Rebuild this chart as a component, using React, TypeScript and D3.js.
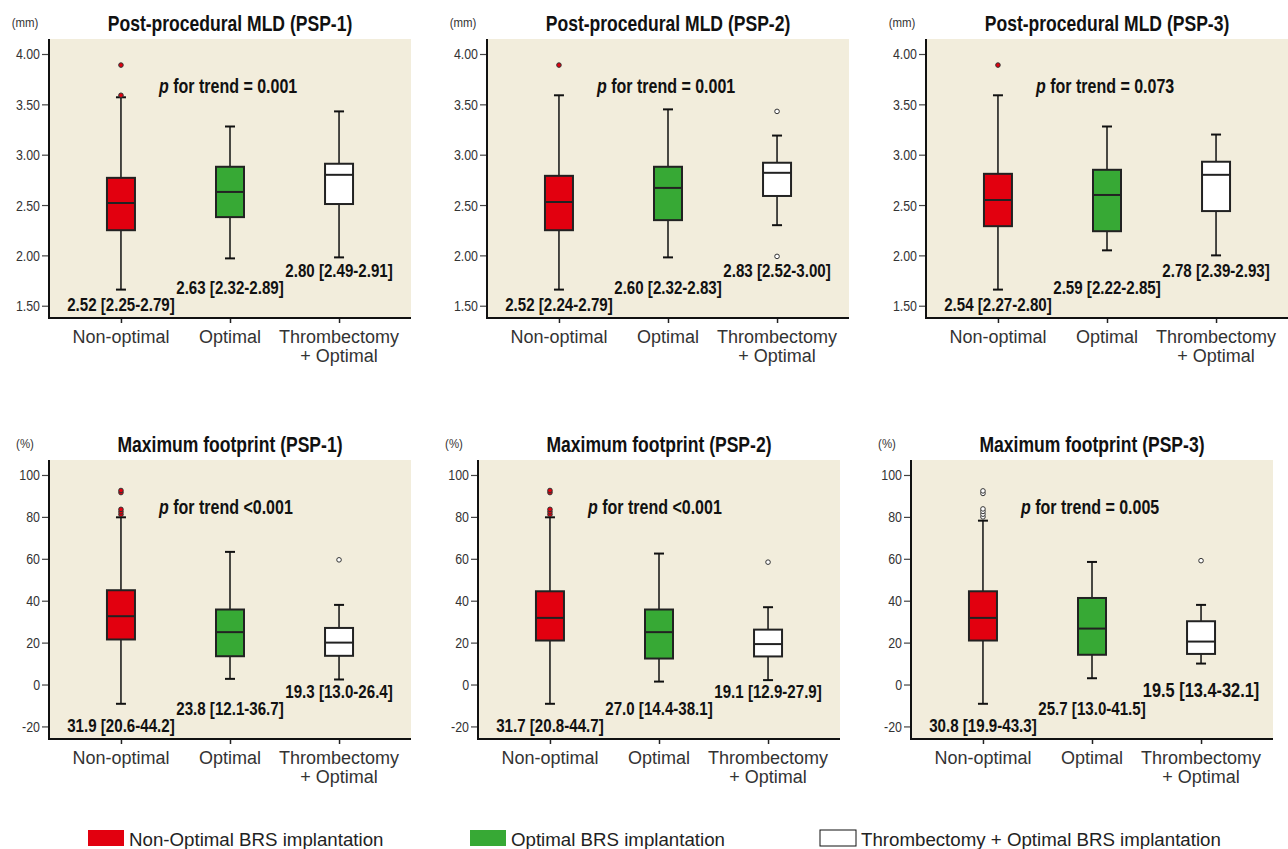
import React, { useEffect, useRef } from "react";
import * as d3 from "d3";

// categories and group colours
const categories = ["Non-optimal", "Optimal", "Thrombectomy"];
const categorySecondLine = ["", "", "+ Optimal"];
const groupColors = ["#e2000f", "#37a935", "#ffffff"];
const legendLabels = [
  "Non-Optimal BRS implantation",
  "Optimal BRS implantation",
  "Thrombectomy + Optimal BRS implantation",
];

// panel texts
const titles = [
  "Post-procedural MLD (PSP-1)",
  "Post-procedural MLD (PSP-2)",
  "Post-procedural MLD (PSP-3)",
  "Maximum footprint (PSP-1)",
  "Maximum footprint (PSP-2)",
  "Maximum footprint (PSP-3)",
];
const unitLabels = ["(mm)", "(mm)", "(mm)", "(%)", "(%)", "(%)"];
const trendValues = ["= 0.001", "= 0.001", "= 0.073", "<0.001", "<0.001", "= 0.005"];

const summaryLabels = [
  ["2.52 [2.25-2.79]", "2.63 [2.32-2.89]", "2.80 [2.49-2.91]"],
  ["2.52 [2.24-2.79]", "2.60 [2.32-2.83]", "2.83 [2.52-3.00]"],
  ["2.54 [2.27-2.80]", "2.59 [2.22-2.85]", "2.78 [2.39-2.93]"],
  ["31.9 [20.6-44.2]", "23.8 [12.1-36.7]", "19.3 [13.0-26.4]"],
  ["31.7 [20.8-44.7]", "27.0 [14.4-38.1]", "19.1 [12.9-27.9]"],
  ["30.8 [19.9-43.3]", "25.7 [13.0-41.5]", "19.5 [13.4-32.1]"],
];

// box stats per group: [lower whisker, q1, median, q3, upper whisker]
const mld1Stats = [[1.66, 2.25, 2.52, 2.77, 3.57], [1.97, 2.38, 2.63, 2.88, 3.28], [1.98, 2.51, 2.80, 2.91, 3.43]];
const mld2Stats = [[1.66, 2.25, 2.53, 2.79, 3.59], [1.98, 2.35, 2.67, 2.88, 3.45], [2.30, 2.59, 2.82, 2.92, 3.19]];
const mld3Stats = [[1.66, 2.29, 2.55, 2.81, 3.59], [2.05, 2.24, 2.60, 2.85, 3.28], [2.00, 2.44, 2.80, 2.93, 3.20]];
const fp1Stats = [[-9.2, 21.5, 32.6, 45.0, 79.8], [2.7, 13.5, 25.0, 35.8, 63.3], [2.4, 13.7, 20.0, 27.0, 38.0]];
const fp2Stats = [[-9.2, 21.0, 31.8, 44.5, 79.8], [1.4, 12.4, 25.0, 35.8, 62.5], [2.1, 13.4, 19.3, 26.2, 36.9]];
const fp3Stats = [[-9.2, 21.0, 31.8, 44.5, 78.2], [3.0, 14.2, 26.7, 41.3, 58.5], [10.0, 14.6, 20.5, 30.2, 38.0]];

// outliers per group
const mld1Outliers = [[3.59, 3.89], [], []];
const mld2Outliers = [[3.89], [], [1.99, 3.43]];
const mld3Outliers = [[3.89], [], []];
const fp1Outliers = [[81.2, 82.4, 83.6, 91.6, 92.6], [], [59.5]];
const fp2Outliers = [[81.2, 82.4, 83.6, 91.6, 92.6], [], [58.4]];
const fp3Outliers = [[80.0, 81.3, 82.6, 83.8, 91.2, 92.4], [], [59.1]];

const mldTicks = [1.5, 2.0, 2.5, 3.0, 3.5, 4.0];
const fpTicks = [-20, 0, 20, 40, 60, 80, 100];

const panelStats = [mld1Stats, mld2Stats, mld3Stats, fp1Stats, fp2Stats, fp3Stats];
const panelOutliers = [mld1Outliers, mld2Outliers, mld3Outliers, fp1Outliers, fp2Outliers, fp3Outliers];

const FONT = "'Liberation Sans', Arial, sans-serif";

// text squeezed horizontally, to get the condensed look of the original
function narrowText(parent: any, x: number, y: number, str: string, size: number, squeeze: number, bold: boolean, anchor = "middle") {
  const t = parent
    .append("g")
    .attr("transform", `translate(${x},${y}) scale(${squeeze},1)`)
    .append("text")
    .attr("text-anchor", anchor)
    .attr("dominant-baseline", "central")
    .style("font-family", FONT)
    .style("font-weight", bold ? "bold" : "normal")
    .style("font-size", size + "px")
    .attr("fill", bold ? "#111" : "#333");
  if (str) t.text(str);
  return t;
}

export default function App() {
  const ref = useRef<SVGSVGElement>(null);

  useEffect(() => {
    const svg = d3.select(ref.current);
    svg.selectAll("*").remove();

    const panelLeft = [49, 487, 926, 49, 478, 911];
    const panelTop = [39, 39, 39, 460, 460, 460];
    const w = 362,
      h = 279;

    panelStats.forEach((stats, i) => {
      const isMld = i < 3;
      const g = svg.append("g").attr("transform", `translate(${panelLeft[i]},${panelTop[i]})`);

      const y = isMld
        ? d3.scaleLinear().domain([1.378, 4.149]).range([h, 0])
        : d3.scaleLinear().domain([-26.0, 107.15]).range([h, 0]);
      const x = d3.scalePoint().domain(categories).range([0, w]).padding(0.66);

      g.append("rect").attr("width", w).attr("height", h).attr("fill", "#f2eddc");

      // title and unit
      narrowText(g, x("Optimal") as number, -16, titles[i], 22.5, 0.78, true);
      narrowText(g, -24, -16, unitLabels[i], 13, 0.88, false);

      // y axis
      const yAxis = g
        .append("g")
        .call(
          d3
            .axisLeft(y)
            .tickValues(isMld ? mldTicks : fpTicks)
            .tickSize(7)
            .tickSizeOuter(0)
            .tickFormat((d) => (isMld ? d3.format(".2f")(d as number) : String(d)))
        );
      yAxis.select(".domain").remove();
      yAxis.selectAll("line").attr("stroke", "#444").attr("stroke-width", 1.2);
      yAxis
        .selectAll("text")
        .attr("x", -9 / 0.8)
        .attr("transform", "scale(0.8,1)")
        .style("font-family", FONT)
        .style("font-size", "15.5px")
        .attr("fill", "#333");

      // x axis
      const xAxis = g.append("g").attr("transform", `translate(0,${h})`).call(d3.axisBottom(x).tickSize(5).tickSizeOuter(0));
      xAxis.select(".domain").remove();
      xAxis.selectAll("line").attr("stroke", "#222").attr("stroke-width", 1.5);
      xAxis.selectAll("text").remove();
      categories.forEach((c, k) => {
        const t = g
          .append("text")
          .attr("x", x(c))
          .attr("y", h + 25)
          .attr("text-anchor", "middle")
          .style("font-family", FONT)
          .style("font-size", "18px")
          .attr("fill", "#333");
        t.append("tspan").attr("x", x(c)).text(c);
        if (categorySecondLine[k]) t.append("tspan").attr("x", x(c)).attr("dy", 19).text(categorySecondLine[k]);
      });

      // axis lines
      g.append("line").attr("x1", 0).attr("x2", 0).attr("y1", 0).attr("y2", h + 1).attr("stroke", "#111").attr("stroke-width", 2);
      g.append("line").attr("x1", 0).attr("x2", w).attr("y1", h).attr("y2", h).attr("stroke", "#111").attr("stroke-width", 2);

      // boxes
      const boxW = 28,
        capW = 10;
      stats.forEach((s, k) => {
        const cx = x(categories[k]) as number;
        const [lo, q1, med, q3, hi] = s;
        g.append("line").attr("x1", cx).attr("x2", cx).attr("y1", y(hi)).attr("y2", y(q3)).attr("stroke", "#111").attr("stroke-width", 1.5);
        g.append("line").attr("x1", cx).attr("x2", cx).attr("y1", y(q1)).attr("y2", y(lo)).attr("stroke", "#111").attr("stroke-width", 1.5);
        [lo, hi].forEach((v) =>
          g
            .append("line")
            .attr("x1", cx - capW / 2)
            .attr("x2", cx + capW / 2)
            .attr("y1", y(v))
            .attr("y2", y(v))
            .attr("stroke", "#111")
            .attr("stroke-width", 2)
        );
        g.append("rect")
          .attr("x", cx - boxW / 2)
          .attr("y", y(q3))
          .attr("width", boxW)
          .attr("height", y(q1) - y(q3))
          .attr("fill", groupColors[k])
          .attr("stroke", "#222")
          .attr("stroke-width", 2);
        g.append("line")
          .attr("x1", cx - boxW / 2)
          .attr("x2", cx + boxW / 2)
          .attr("y1", y(med))
          .attr("y2", y(med))
          .attr("stroke", "#222")
          .attr("stroke-width", 2);

        const hollow = k === 2 || i === 5;
        panelOutliers[i][k].forEach((v) =>
          g
            .append("circle")
            .attr("cx", cx)
            .attr("cy", y(v))
            .attr("r", 2.3)
            .attr("fill", hollow ? "#ffffff" : "#e2000f")
            .attr("stroke", "#333")
            .attr("stroke-width", 1)
        );

        // summary label
        const labelY = [266, 249, 231.7][k];
        const big = i === 5 && k === 2;
        narrowText(g, cx, labelY - (big ? 1 : 0), summaryLabels[i][k], big ? 19.5 : 18, 0.84, true);
      });

      // p for trend
      const pt = narrowText(g, 110, 47, "", 20, 0.8, true, "start");
      pt.append("tspan").style("font-style", "italic").text("p");
      pt.append("tspan").text(" for trend " + trendValues[i]);
    });

    // legend
    const legendX = [88, 470, 820];
    legendLabels.forEach((l, k) => {
      svg
        .append("rect")
        .attr("x", legendX[k])
        .attr("y", 830)
        .attr("width", 36)
        .attr("height", 16)
        .attr("fill", groupColors[k])
        .attr("stroke", k === 2 ? "#111" : "none")
        .attr("stroke-width", 1);
      svg
        .append("text")
        .attr("x", legendX[k] + 41)
        .attr("y", 839)
        .attr("dominant-baseline", "central")
        .style("font-family", FONT)
        .style("font-size", "18.7px")
        .attr("fill", "#222")
        .text(l);
    });
  }, []);

  return (
    <svg
      ref={ref}
      width={1288}
      height={849}
      style={{ position: "absolute", left: 0, top: 0, background: "#ffffff" }}
    ></svg>
  );
}
